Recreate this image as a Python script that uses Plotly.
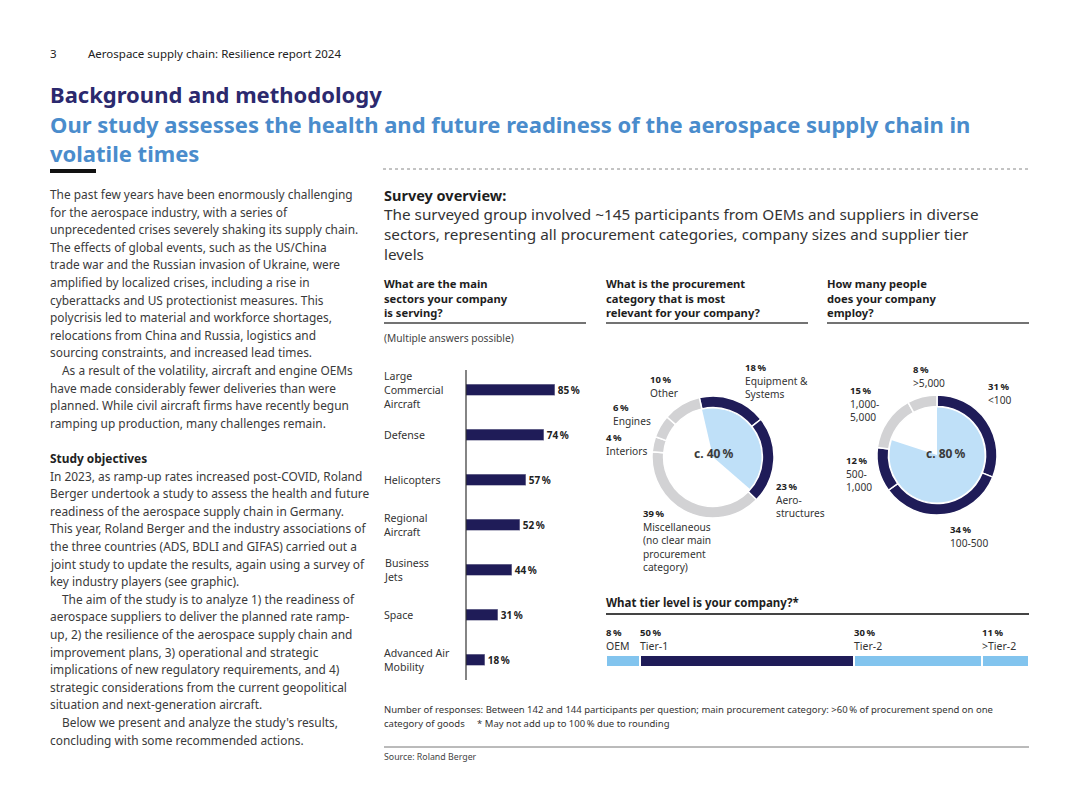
import plotly.graph_objects as go

W, H = 1080, 810

# ---------------- data ----------------
sectors = ["Large<br>Commercial<br>Aircraft", "Defense", "Helicopters", "Regional<br>Aircraft",
           "Business<br>Jets", "Space", "Advanced Air<br>Mobility"]
sector_share = [85, 74, 57, 52, 44, 31, 18]

proc_labels = ["Equipment &<br>Systems", "Aero-<br>structures",
               "Miscellaneous<br>(no clear main<br>procurement<br>category)",
               "Interiors", "Engines", "Other"]
proc_share = [18, 23, 39, 4, 6, 10]
proc_focus = 40

emp_labels = ["<100", "100-500", "500-<br>1,000", "1,000-<br>5,000", ">5,000"]
emp_share = [31, 34, 12, 15, 8]
emp_focus = 80

tier_labels = ["OEM", "Tier-1", "Tier-2", ">Tier-2"]
tier_share = [8, 50, 30, 11]

# ---------------- styles ----------------
NAVY = "#1f1c58"
LIGHT = "#bfe0f8"
TIERLIGHT = "#82c4ee"
GRAY = "#d2d2d4"
TXT = "#333333"
FONT = "Noto Sans"


def X(x):
    return x / W


def Y(y):
    return 1 - y / H


fig = go.Figure()
ann = []
shapes = []


def esc(s):
    return s.replace("<br>", "\n").replace("<", "&lt;").replace(">", "&gt;").replace("\n", "<br>")


def txt(x, y, s, size=11, color=TXT, bold=False, xanchor="left", yanchor="middle"):
    if bold:
        s = "<b>" + s + "</b>"
    ann.append(dict(x=X(x), y=Y(y), xref="paper", yref="paper", text=s, showarrow=False,
                    xanchor=xanchor, yanchor=yanchor, align="left", borderpad=0, borderwidth=0,
                    font=dict(family=FONT, size=size, color=color)))


def hline(x0, x1, y, color="#555", width=1, dash=None):
    line = dict(color=color, width=width)
    if dash:
        line["dash"] = dash
    shapes.append(dict(type="line", xref="paper", yref="paper", x0=X(x0), x1=X(x1),
                       y0=Y(y), y1=Y(y), line=line))


# ---------------- header ----------------
txt(50, 54, "3", 11.5, "#222")
txt(88, 54, "Aerospace supply chain: Resilience report 2024", 11.5, "#222")
txt(50, 109, "Background and methodology", 22, "#2b296e", bold=True, yanchor="bottom")
txt(50, 109, "Our study assesses the health and future readiness of the aerospace supply chain in<br>"
    "volatile times", 22, "#4a8ccc", bold=True, yanchor="top")
shapes.append(dict(type="rect", xref="paper", yref="paper", x0=X(50), x1=X(96), y0=Y(173), y1=Y(169),
                   fillcolor="#111", line=dict(width=0)))
hline(383, 1030, 169, "#888", 1, "dot")

# ---------------- left column text ----------------
body = [
    ("The past few years have been enormously challenging", 0, False),
    ("for the aerospace industry, with a series of", 0, False),
    ("unprecedented crises severely shaking its supply chain.", 0, False),
    ("The effects of global events, such as the US/China", 0, False),
    ("trade war and the Russian invasion of Ukraine, were", 0, False),
    ("amplified by localized crises, including a rise in", 0, False),
    ("cyberattacks and US protectionist measures. This", 0, False),
    ("polycrisis led to material and workforce shortages,", 0, False),
    ("relocations from China and Russia, logistics and", 0, False),
    ("sourcing constraints, and increased lead times.", 0, False),
    ("As a result of the volatility, aircraft and engine OEMs", 12, False),
    ("have made considerably fewer deliveries than were", 0, False),
    ("planned. While civil aircraft firms have recently begun", 0, False),
    ("ramping up production, many challenges remain.", 0, False),
    ("", 0, False),
    ("Study objectives", 0, True),
    ("In 2023, as ramp-up rates increased post-COVID, Roland", 0, False),
    ("Berger undertook a study to assess the health and future", 0, False),
    ("readiness of the aerospace supply chain in Germany.", 0, False),
    ("This year, Roland Berger and the industry associations of", 0, False),
    ("the three countries (ADS, BDLI and GIFAS) carried out a", 0, False),
    ("joint study to update the results, again using a survey of", 0, False),
    ("key industry players (see graphic).", 0, False),
    ("The aim of the study is to analyze 1) the readiness of", 12, False),
    ("aerospace suppliers to deliver the planned rate ramp-", 0, False),
    ("up, 2) the resilience of the aerospace supply chain and", 0, False),
    ("improvement plans, 3) operational and strategic", 0, False),
    ("implications of new regulatory requirements, and 4)", 0, False),
    ("strategic considerations from the current geopolitical", 0, False),
    ("situation and next-generation aircraft.", 0, False),
    ("Below we present and analyze the study's results,", 12, False),
    ("concluding with some recommended actions.", 0, False),
]
for i, (s, ind, b) in enumerate(body):
    if s:
        txt(50 + ind, 194 + i * 17.6, s, 11.9, "#222" if b else "#3a3a3a", bold=b)

# ---------------- right side intro ----------------
txt(384, 195, "Survey overview:", 14.5, "#1e1e1e", bold=True)
txt(384, 204, "The surveyed group involved ~145 participants from OEMs and suppliers in diverse<br>"
    "sectors, representing all procurement categories, company sizes and supplier tier<br>"
    "levels", 15.3, "#333", yanchor="top")

heads = [
    (384, "What are the main<br>sectors your company<br>is serving?"),
    (606, "What is the procurement<br>category that is most<br>relevant for your company?"),
    (827, "How many people<br>does your company<br>employ?"),
]
for x0, s in heads:
    txt(x0, 298, s, 11.2, "#1e1e1e", bold=True)
    hline(x0, x0 + 202, 323, "#444", 1.6)
txt(384, 338, "(Multiple answers possible)", 10.2, "#444")

# ---------------- bar chart: sectors ----------------
fig.add_trace(go.Bar(
    x=sector_share, y=sectors, orientation="h", xaxis="x", yaxis="y",
    marker=dict(color=NAVY, line=dict(color="#8d8ca8", width=0.6)),
    width=0.25,
    text=[f"<b>{v}\u2009%</b>" for v in sector_share], textposition="outside",
    constraintext="none",
    textfont=dict(family=FONT, size=10, color="#222"), cliponaxis=False,
    hoverinfo="skip", showlegend=False))
for s in sectors:
    ann.append(dict(x=X(384), y=s, xref="paper", yref="y", text=s, showarrow=False,
                    xanchor="left", yanchor="middle", align="left", borderpad=0, borderwidth=0,
                    font=dict(family=FONT, size=10.6, color="#333")))
shapes.append(dict(type="line", xref="paper", yref="paper", x0=X(466), x1=X(466),
                   y0=Y(370), y1=Y(680), line=dict(color="#333", width=1.2)))


# ---------------- donuts ----------------
def donut(values, labels, colors, cx, cy, r, hole, rotation):
    fig.add_trace(go.Pie(
        values=values, labels=labels, sort=False, direction="clockwise", rotation=rotation,
        hole=hole, marker=dict(colors=colors, line=dict(color="white", width=1.5)),
        textinfo="none", hoverinfo="skip", showlegend=False,
        domain=dict(x=[X(cx - r), X(cx + r)], y=[Y(cy + r), Y(cy - r)])))


def wedge(focus, cx, cy, r, rotation, name):
    fig.add_trace(go.Pie(
        values=[focus, 100 - focus], labels=[name, name + " rest"], sort=False,
        direction="clockwise", rotation=rotation,
        marker=dict(colors=[LIGHT, "rgba(0,0,0,0)"], line=dict(width=0)),
        textinfo="none", hoverinfo="skip", showlegend=False,
        domain=dict(x=[X(cx - r), X(cx + r)], y=[Y(cy + r), Y(cy - r)])))


def slice_label(x0, y0, v, lab):
    txt(x0, y0 + 6, f"{v}\u2009%", 9.5, "#222", bold=True, yanchor="bottom")
    txt(x0, y0 + 6, esc(lab), 10.2, "#333", yanchor="top")


proc_colors = [NAVY, NAVY, GRAY, GRAY, GRAY, GRAY]
donut(proc_share, proc_labels, proc_colors, 713, 457, 61, 0.81, -13)
wedge(proc_focus, 713, 457, 48.5, -13, "focus1")
txt(713, 454, "c. 40\u2009%", 12, "#3a3a3a", bold=True, xanchor="center")

proc_pos = [(745, 368), (776, 487), (643, 514), (606, 438), (613, 408), (650, 380)]
for (x0, y0), v, lab in zip(proc_pos, proc_share, proc_labels):
    slice_label(x0, y0, v, lab)

emp_colors = [NAVY, NAVY, NAVY, GRAY, GRAY]
donut(emp_share, emp_labels, emp_colors, 937, 455, 60, 0.81, 0)
wedge(emp_focus, 937, 455, 47.5, 0, "focus2")
txt(945, 453, "c. 80\u2009%", 12, "#3a3a3a", bold=True, xanchor="center")

emp_pos = [(988, 387), (950, 530), (846, 461), (850, 391), (913, 370)]
for (x0, y0), v, lab in zip(emp_pos, emp_share, emp_labels):
    slice_label(x0, y0, v, lab)

# ---------------- tier bar ----------------
txt(606, 602, "What tier level is your company?*", 11.5, "#1e1e1e", bold=True)
hline(606, 1029, 614, "#444", 1.8)
tier_colors = [TIERLIGHT, NAVY, TIERLIGHT, TIERLIGHT]
cum = 0
for lab, v, c in zip(tier_labels, tier_share, tier_colors):
    fig.add_trace(go.Bar(
        x=[v], y=["tier"], orientation="h", xaxis="x2", yaxis="y2", width=1,
        marker=dict(color=c, line=dict(color="white", width=2)),
        hoverinfo="skip", showlegend=False))
    ann.append(dict(x=cum, y=Y(632), xref="x2", yref="paper", text=f"<b>{v}\u2009%</b>",
                    showarrow=False, xanchor="left", yanchor="middle", borderpad=0, borderwidth=0,
                    font=dict(family=FONT, size=9.5, color="#222")))
    ann.append(dict(x=cum, y=Y(646), xref="x2", yref="paper", text=esc(lab),
                    showarrow=False, xanchor="left", yanchor="middle", borderpad=0, borderwidth=0,
                    font=dict(family=FONT, size=10.5, color="#333")))
    cum += v

# ---------------- footnotes ----------------
txt(384, 709, "Number of responses: Between 142 and 144 participants per question; main procurement category: &gt;60\u2009% of procurement spend on one",
    9.5, "#333")
txt(384, 723, "category of goods     * May not add up to 100\u2009% due to rounding", 9.5, "#333")
hline(384, 1029, 747, "#777", 1)
txt(384, 757, "Source: Roland Berger", 8.8, "#444")

fig.update_layout(
    width=W, height=H, margin=dict(l=0, r=0, t=0, b=0),
    paper_bgcolor="white", plot_bgcolor="rgba(0,0,0,0)",
    barmode="stack", bargap=0,
    font=dict(family=FONT, color=TXT),
    xaxis=dict(domain=[X(466), X(576)], range=[0, 105], visible=False, fixedrange=True),
    yaxis=dict(domain=[Y(682.5), Y(367.5)], categoryorder="array", categoryarray=sectors,
               autorange="reversed", visible=False, fixedrange=True),
    xaxis2=dict(domain=[X(606), X(1029)], range=[0, sum(tier_share)], visible=False, fixedrange=True),
    yaxis2=dict(domain=[Y(667), Y(655)], range=[-0.5, 0.5], visible=False, fixedrange=True),
    annotations=ann, shapes=shapes,
)

fig.write_html("out.html", config={"displayModeBar": False},
               post_script="document.body.style.margin='0';document.body.style.overflow='hidden';")
